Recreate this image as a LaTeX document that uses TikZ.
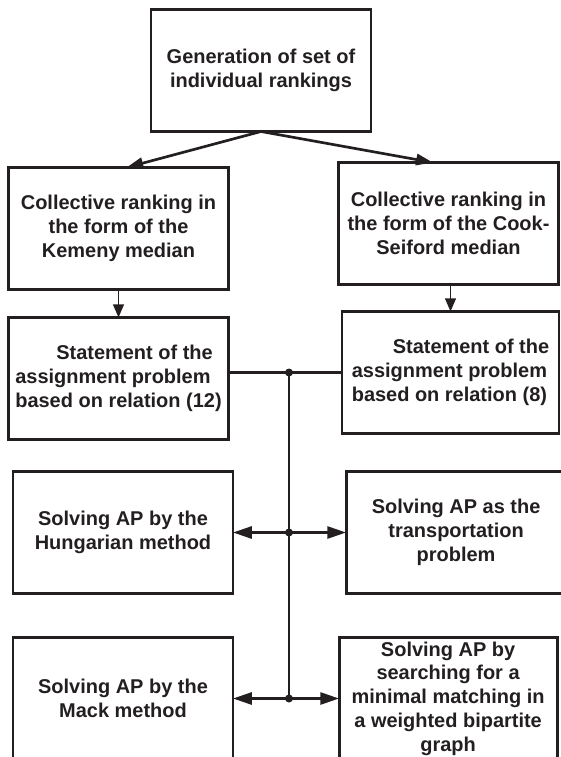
\documentclass[tikz,border=0pt]{standalone}
\usepackage{fontspec}
\setmainfont{Liberation Sans}
\usepackage{tikz}
\usetikzlibrary{arrows.meta, positioning}
\definecolor{ink}{HTML}{231F20}

\begin{document}
\begin{tikzpicture}[every node/.style={font=\bfseries\fontsize{14.2}{16.9}\selectfont, text=ink},
    box/.style={draw=ink, line width=2.1pt, minimum width=5.5cm, minimum height=3.05cm, align=center, inner sep=2pt, outer sep=0pt},
    link/.style={draw=ink, line width=1.9pt},
    bigtip/.style={-{Triangle[length=0.47cm, width=0.3cm]}}]
                \useasboundingbox (0,0) rectangle (14.025,-18.925);
                \clip (0,0) rectangle (14.025,-18.925);
                % Generation
                \node[box] (gen) at (6.525,-1.7625) {Generation of set of\\individual rankings};
                % Collective rankings
                \node[box, below=0.9cm of gen, xshift=-3.5625cm] (kemeny) {Collective ranking in\\the form of the\\Kemeny median};
                \node[box, below=0.775cm of gen, xshift=4.6875cm] (cook) {Collective ranking in\\the form of the Cook-\\Seiford median};
                % Statements of AP
                \node[box, below=0.7cm of kemeny, align=left] (stat12) {\hspace*{1.025cm}Statement of the\\assignment problem\\based on relation (12)};
                \node[box, below=0.675cm of cook, xshift=0.05cm, minimum width=5.425cm, align=left] (stat8) {\hspace*{1.025cm}Statement of the\\assignment problem\\based on relation (8)};
                % Solving AP
                \node[box, below=0.8cm of stat12, xshift=0.1125cm] (hung) {Solving AP by the\\Hungarian method};
                \node[box, below=0.95cm of stat8, xshift=0.14cm] (transp) {Solving AP as the\\transportation\\problem};
                \node[box, below=1.1cm of hung] (mack) {Solving AP by the\\Mack method};
                \node[box, below=1.1cm of transp, xshift=-0.2cm, minimum width=5.45cm] (bip) {Solving AP by\\searching for a\\minimal matching in\\a weighted bipartite\\graph};
                % Arrows from the top
                \draw[link, -{Triangle[length=0.42cm, width=0.28cm]}] (gen.south) -- ([xshift=0.2cm]kemeny.north);
                \draw[link, -{Triangle[length=0.42cm, width=0.28cm]}] (gen.south) -- ([xshift=-0.39cm]cook.north);
                \draw[draw=ink, line width=1.4pt, -{Triangle[length=0.33cm, width=0.27cm]}] (kemeny.south) -- (stat12.north);
                \draw[draw=ink, line width=1.4pt, -{Triangle[length=0.33cm, width=0.27cm]}] (cook.south -| stat8.north) -- (stat8.north);
                % Bus
                \coordinate (j1) at ([xshift=0.7cm]gen.center |- stat8.west);
                \coordinate (j2) at (j1 |- transp.west);
                \coordinate (j3) at (j1 |- bip.west);
                \draw[link] (stat12.east |- j1) -- (stat8.west);
                \draw[link] (j1) -- (j3);
                \draw[link, bigtip] (j2) -- (hung.east |- j2);
                \draw[link, bigtip] (j2) -- (transp.west |- j2);
                \draw[link, bigtip] (j3) -- (mack.east |- j3);
                \draw[link, bigtip] (j3) -- (bip.west |- j3);
                \foreach \j in {j1,j2,j3}
                    \fill[ink] (\j) circle (0.1cm);
            \end{tikzpicture}
\end{document}
